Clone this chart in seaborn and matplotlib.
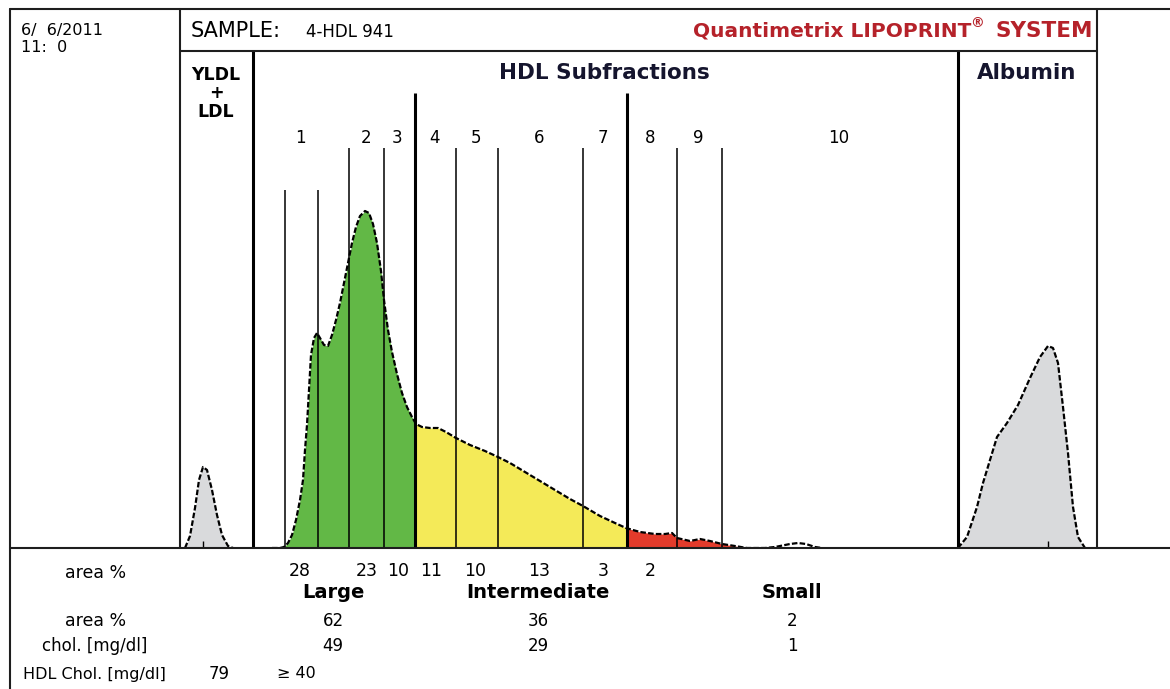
import numpy as np
import seaborn as sns
import matplotlib.pyplot as plt

# scan: migration position vs. trace height
vldl_x = [185, 190, 195, 199, 203, 207, 212, 217, 222, 228, 233]
vldl_h = [0, 12, 40, 68, 81, 78, 58, 33, 13, 2, 0]

hdl_x = [272, 280, 284, 288, 292, 296, 300, 303, 305, 307, 309, 311, 314, 317,
         320, 324, 328, 332, 336, 340, 344, 348, 352, 356, 360, 365, 369, 373,
         377, 381, 384, 388, 392, 397, 402, 407, 412, 416, 422, 430, 438, 446,
         456, 470, 485, 498, 510, 525, 540, 555, 570, 583, 600, 615, 626, 640,
         655, 665, 672, 677, 690, 700, 710, 722, 735, 747, 765, 775, 790, 798,
         806, 815, 822]
hdl_h = [0, 0, 1, 5, 13, 28, 48, 68, 98, 123, 158, 193, 210, 215,
         210, 203, 202, 213, 228, 245, 265, 285, 305, 321, 332, 337, 335, 324,
         305, 277, 248, 218, 196, 174, 155, 141, 131, 124, 121, 120, 120, 116,
         110, 103, 97, 91, 85, 76, 67, 58, 49, 42, 32, 25, 20, 16,
         14, 14, 15, 10, 7, 9, 7, 4, 2, 0, 0, 1, 4, 5,
         4, 1, 0]

alb_x = [958, 967, 977, 983, 990, 997, 1007, 1018, 1030, 1040, 1048, 1053,
         1058, 1063, 1068, 1073, 1078, 1085]
alb_h = [0, 11, 41, 65, 88, 111, 125, 143, 170, 191, 202, 200,
         185, 141, 95, 41, 11, 0]

# region and subfraction boundaries
region_cuts = [253, 958]          # VLDL+LDL | HDL | Albumin
size_cuts = [415, 627]            # Large | Intermediate | Small
small_end = 747
long_cuts = [349, 384, 456, 498, 583, 677, 722]
short_cuts = [285, 318]
sub_labels = ["1", "2", "3", "4", "5", "6", "7", "8", "9", "10"]
sub_label_x = [300, 366, 397, 434, 476, 539, 603, 650, 698, 839]

area_sub = ["28", "23", "10", "11", "10", "13", "3", "2"]
area_sub_x = [300, 367, 398, 431, 475, 539, 603, 650]
groups = ["Large", "Intermediate", "Small"]
group_x = [333, 538, 792]
area_grp = ["62", "36", "2"]
chol_grp = ["49", "29", "1"]
hdl_chol = "79"

GREEN = "#62b846"
YELLOW = "#f4ea58"
RED = "#e33b2b"
GRAY = "#d9dadc"

sns.set_style("white")
plt.rcParams["font.family"] = ["DejaVu Sans"]
plt.rcParams["text.color"] = "black"

W, H = 1170, 689
fig = plt.figure(figsize=(W / 100, H / 100), dpi=100)
fig.patch.set_facecolor("white")

# trace axes: x in scan units, y = height above baseline
x0, x1, ytop, ybase = 180, 1097, 51, 548
ax = fig.add_axes([x0 / W, 1 - ybase / H, (x1 - x0) / W, (ybase - ytop) / H])
ax.set_xlim(x0, x1)
ax.set_ylim(0, ybase - ytop)
ax.set_facecolor("none")
ax.axis("off")


def fill_part(xs, hs, lo, hi, color):
    grid = np.linspace(lo, hi, 300)
    ax.fill_between(grid, 0, np.interp(grid, xs, hs), color=color, lw=0, zorder=1)


fill_part(vldl_x, vldl_h, vldl_x[0], vldl_x[-1], GRAY)
fill_part(hdl_x, hdl_h, hdl_x[0], size_cuts[0], GREEN)
fill_part(hdl_x, hdl_h, size_cuts[0], size_cuts[1], YELLOW)
fill_part(hdl_x, hdl_h, size_cuts[1], small_end, RED)
fill_part(alb_x, alb_h, alb_x[0], alb_x[-1], GRAY)

top = ybase - ytop
ax.vlines(region_cuts, 0, top, color="black", lw=2.2, zorder=2)
ax.vlines(size_cuts, 0, ybase - 93, color="black", lw=2.2, zorder=2)
ax.vlines(long_cuts, 0, ybase - 148, color="black", lw=1.1, zorder=2)
ax.vlines(short_cuts, 0, ybase - 190, color="black", lw=1.1, zorder=2)
ax.vlines([vldl_x[4], alb_x[10]], 0, 7, color="black", lw=1.0, zorder=2)

for xs, hs in [(vldl_x, vldl_h), (hdl_x, hdl_h), (alb_x, alb_h)]:
    sns.lineplot(x=xs, y=hs, ax=ax, sort=False, estimator=None, color="black",
                 lw=1.6, linestyle=(0, (2.5, 1)), zorder=3)

# overlay in pixel coordinates for frame and labels
ov = fig.add_axes([0, 0, 1, 1])
ov.set_xlim(0, W)
ov.set_ylim(H, 0)
ov.axis("off")

lc = "#1e1e1e"
ov.plot([10, W], [9, 9], color=lc, lw=1.5)
ov.plot([10, 10], [9, H], color=lc, lw=1.5)
ov.plot([x0, x0], [9, ybase], color=lc, lw=1.5)
ov.plot([x1, x1], [9, ybase], color=lc, lw=1.5)
ov.plot([x0, x1], [ytop, ytop], color=lc, lw=1.5)
ov.plot([10, W], [ybase, ybase], color=lc, lw=1.5)

ov.text(21, 30, "6/  6/2011", fontsize=11.5, va="center")
ov.text(21, 47, "11:  0", fontsize=11.5, va="center")
ov.text(191, 31, "SAMPLE:", fontsize=15, va="center")
ov.text(306, 32, "4-HDL 941", fontsize=12, va="center")

red_txt = "#b5222a"
ov.text(971, 31, "Quantimetrix LIPOPRINT", fontsize=14.5, fontweight="bold",
        color=red_txt, ha="right", va="center")
ov.text(970, 23, "®", fontsize=10, fontweight="bold", color=red_txt,
        ha="left", va="center")
ov.text(1093, 31, "SYSTEM", fontsize=15.5, fontweight="bold", color=red_txt,
        ha="right", va="center")

ov.text(216, 75, "YLDL", fontsize=12.5, fontweight="bold", ha="center", va="center")
ov.text(216, 93, "+", fontsize=12.5, fontweight="bold", ha="center", va="center")
ov.text(216, 112, "LDL", fontsize=12.5, fontweight="bold", ha="center", va="center")
ov.text(604, 73, "HDL Subfractions", fontsize=15.5, fontweight="bold",
        color="#15152e", ha="center", va="center")
ov.text(1027, 73, "Albumin", fontsize=15.5, fontweight="bold",
        color="#15152e", ha="center", va="center")

for lab, xp in zip(sub_labels, sub_label_x):
    ov.text(xp, 138, lab, fontsize=12, ha="center", va="center")

# results table
ov.text(96, 573, "area %", fontsize=12.5, ha="center", va="center")
for lab, xp in zip(area_sub, area_sub_x):
    ov.text(xp, 571, lab, fontsize=12.5, ha="center", va="center")
for lab, xp in zip(groups, group_x):
    ov.text(xp, 592, lab, fontsize=14, fontweight="bold", ha="center", va="center")
ov.text(96, 621, "area %", fontsize=12.5, ha="center", va="center")
ov.text(95, 646, "chol. [mg/dl]", fontsize=12, ha="center", va="center")
for a, c, xp in zip(area_grp, chol_grp, group_x):
    ov.text(xp, 621, a, fontsize=12, ha="center", va="center")
    ov.text(xp, 646, c, fontsize=12, ha="center", va="center")
ov.text(94, 674, "HDL Chol. [mg/dl]", fontsize=11.5, ha="center", va="center")
ov.text(219, 674, hdl_chol, fontsize=12, ha="center", va="center")
ov.text(296, 674, "≥ 40", fontsize=11.5, ha="center", va="center")

fig.savefig("out.png", dpi=100, facecolor="white")
